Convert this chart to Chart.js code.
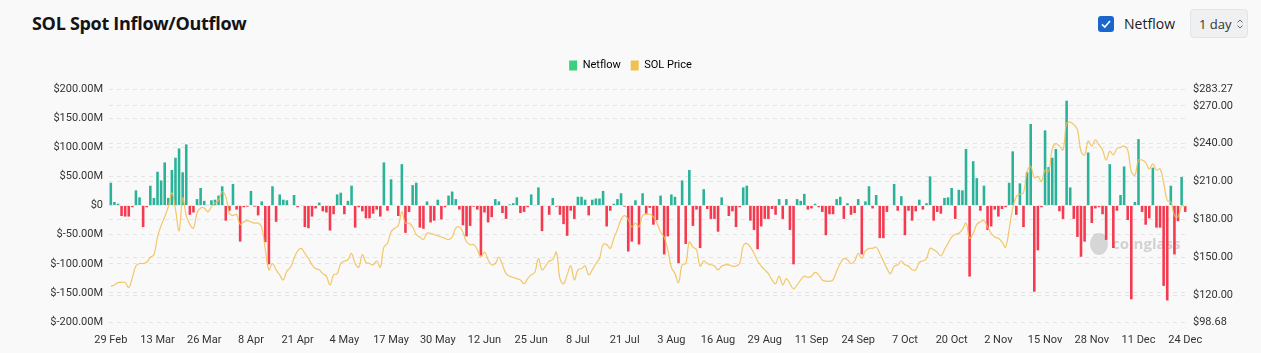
<!DOCTYPE html>
<html>
<head>
<meta charset="utf-8">
<script src="https://cdn.jsdelivr.net/npm/chart.js@4/dist/chart.umd.min.js"></script>
<style>
  html, body { margin: 0; padding: 0; background: #f9f9f9; font-family: 'Open Sans', 'Noto Sans', sans-serif; }
  .wrap { position: relative; width: 1261px; height: 353px; overflow: hidden; }
  .title { position: absolute; left: 32px; top: 11px; font-size: 18px; font-weight: 700; color: #141414; letter-spacing: -0.3px; }
  .ctrl { position: absolute; top: 9px; right: 13px; display: flex; align-items: center; }
  .chk { width: 16px; height: 16px; border-radius: 3px; background: #1a66cc; display: flex; align-items: center; justify-content: center; }
  .ctrl-label { margin: 0 15px 0 10px; font-size: 14px; color: #1c1c1c; }
  .sel { height: 29px; width: 58px; box-sizing: border-box; border: 1px solid #e1e4e8; border-radius: 4px; background: #eef0f2; font-size: 13px; color: #333; display: flex; align-items: center; padding-left: 8px; }
  .sel svg { margin-left: 4px; }
  .chart-box { position: absolute; left: 0; top: 50px; width: 1261px; height: 303px; }
</style>
</head>
<body>
<div class="wrap">
  <div class="title">SOL Spot Inflow/Outflow</div>
  <div class="ctrl">
    <div class="chk"><svg width="12" height="12" viewBox="0 0 12 12"><path d="M2 6.3 L4.8 9 L10 3" stroke="#fff" stroke-width="1.6" fill="none"/></svg></div>
    <span class="ctrl-label">Netflow</span>
    <div class="sel">1 day<svg width="8" height="12" viewBox="0 0 8 12"><path d="M1.5 4.5 L4 2 L6.5 4.5 M1.5 7.5 L4 10 L6.5 7.5" stroke="#666" stroke-width="1" fill="none"/></svg></div>
  </div>
  <div class="chart-box"><canvas id="chart"></canvas></div>
</div>
<script>
// SOL spot netflow (bars, $M) and SOL price (line), daily from 29 Feb 2024
const startDate = new Date(Date.UTC(2024, 1, 29));
const dayCount = 300;
const monthNames = ['Jan', 'Feb', 'Mar', 'Apr', 'May', 'Jun', 'Jul', 'Aug', 'Sep', 'Oct', 'Nov', 'Dec'];
const labelEvery = 13;

const netflowM = [
  39, 6, 3, -18, -19, -19, -3, 26, 14, -37,
  -3, 34, 13, 58, 43, 74, 13, 61, 82, 98,
  57, 105, -16, -12, 11, 30, 8, 1, 9, 10,
  17, 33, -26, -9, 37, -7, -62, -3, -2, 25,
  -2, -17, 7, -63, -101, 33, -28, 19, 10, 9,
  1, 18, -3, 1, -37, -39, -19, -5, 5, -10,
  -12, -43, -15, 19, 22, -15, 8, 34, -38, -3,
  -10, -22, -22, -14, -7, -19, 74, -9, 45, 1,
  -18, 71, -47, -11, 35, 39, -38, -40, 7, -29,
  -26, 10, -24, -3, 17, 24, 11, -7, -34, -53,
  -35, -2, -7, -86, -12, -29, -20, 11, 7, -13,
  -23, 2, 4, 14, -13, -11, -3, 19, 1, 31,
  -44, -1, -16, 13, -2, -16, -32, -52, -9, -23,
  15, 15, 10, -17, 10, 12, 12, 25, -36, -9,
  3, 11, 21, -2, -79, -62, 9, -67, 21, -14,
  -4, -33, -25, 17, -84, -53, 19, 15, -99, 43,
  -66, 61, -35, -7, -73, 28, -6, -23, -23, -45,
  14, 1, -18, -10, -37, -3, 31, 34, -26, -42,
  -75, -36, -23, -23, -6, -16, 11, -23, 11, -42,
  -101, 11, 8, 20, -7, -5, 3, -3, -11, -51,
  -15, -15, 11, 15, -23, 4, -16, -13, 11, -84,
  7, 33, -5, 18, -56, -56, -11, 1, 37, -9,
  16, -51, -9, -26, -10, 10, -7, 4, 50, -26,
  -11, -14, 13, 14, 30, -23, 27, 26, 97, -122,
  76, 47, -9, 34, -42, -36, -7, -19, -6, -3,
  39, 93, -16, 38, -37, 57, 140, -148, -77, -3,
  129, 66, 82, 97, -10, -23, 180, 31, -23, -54,
  -88, -62, 91, -30, -5, -3, -15, -59, 71, -73,
  -9, 18, 67, -25, -161, 6, 114, -11, -33, -22,
  65, -38, -38, -138, -163, 34, -84, -27, 49, -11
];

const solPrice = [
  127, 128, 130, 130, 130, 126, 134, 143, 145, 145,
  146, 150, 152, 166, 175, 182, 190, 201, 188, 171,
  197, 183, 176, 173, 185, 189, 189, 186, 190, 193,
  195, 202, 198, 185, 183, 184, 176, 178, 179, 178,
  177, 177, 174, 156, 140, 145, 140, 136, 132, 139,
  142, 149, 155, 157, 153, 149, 144, 141, 140, 137,
  135, 128, 136, 137, 145, 147, 148, 153, 145, 142,
  152, 146, 145, 144, 147, 142, 158, 161, 170, 173,
  175, 186, 177, 177, 174, 168, 166, 164, 169, 169,
  168, 167, 166, 165, 164, 166, 173, 174, 170, 162,
  160, 160, 156, 150, 154, 148, 144, 145, 150, 144,
  137, 135, 134, 133, 132, 129, 133, 136, 138, 149,
  140, 143, 147, 148, 154, 133, 129, 136, 143, 132,
  140, 141, 143, 136, 140, 145, 149, 160, 160, 157,
  165, 172, 180, 183, 180, 174, 177, 174, 183, 184,
  184, 182, 177, 170, 166, 156, 142, 137, 130, 144,
  145, 162, 158, 156, 143, 147, 145, 144, 143, 140,
  143, 144, 144, 143, 143, 145, 159, 161, 158, 153,
  147, 143, 140, 137, 132, 129, 135, 128, 133, 129,
  125, 128, 132, 135, 134, 135, 138, 136, 132, 131,
  131, 132, 139, 145, 149, 148, 145, 147, 153, 149,
  155, 157, 157, 158, 153, 147, 141, 137, 143, 144,
  147, 144, 143, 140, 140, 146, 147, 149, 157, 156,
  154, 151, 156, 161, 166, 168, 169, 172, 177, 165,
  169, 176, 178, 179, 174, 169, 166, 165, 162, 158,
  172, 189, 198, 200, 201, 218, 222, 213, 214, 210,
  219, 218, 236, 240, 238, 235, 256, 257, 255, 251,
  234, 231, 242, 238, 243, 239, 235, 227, 234, 231,
  236, 237, 238, 235, 218, 215, 227, 227, 225, 220,
  224, 219, 220, 209, 195, 194, 183, 182, 191, 190
];

const flowMin = -200, flowMax = 200, flowStep = 50;
const priceMin = 98.68, priceMax = 283.27, priceStep = 30;

const colors = {
  inflow: '#2bb39a',
  outflow: '#f5394f',
  legendGreen: '#3ccf7e',
  price: 'rgba(240, 190, 80, 0.85)',
  legendPrice: '#f0c050',
  grid: '#e4e4e4',
  tick: '#333',
};

const dates = [];
for (let i = 0; i < dayCount; i++) {
  const d = new Date(startDate.getTime() + i * 86400000);
  dates.push(d.getUTCDate() + ' ' + monthNames[d.getUTCMonth()]);
}

// legend gets extra room below it (space between legend and plot)
const legendGap = {
  id: 'legendGap',
  beforeInit(chart) {
    const fit = chart.legend.fit;
    chart.legend.fit = function () {
      fit.call(this);
      this.height += 8;
    };
  },
};

// faded brand mark behind the bars
const watermark = {
  id: 'watermark',
  beforeDatasetsDraw(chart) {
    const { ctx, chartArea } = chart;
    const x = chartArea.right - 97, y = chartArea.top + 156;
    ctx.save();
    ctx.fillStyle = 'rgba(150,150,150,0.35)';
    ctx.beginPath();
    ctx.ellipse(x + 9, y - 1, 9, 11, 0, 0, Math.PI * 2);
    ctx.fill();
    ctx.fillStyle = 'rgba(150,150,150,0.4)';
    ctx.font = 'bold 15px "Open Sans", sans-serif';
    ctx.textBaseline = 'middle';
    ctx.fillText('coinglass', x + 22, y);
    ctx.restore();
  },
};

const tickFont = { family: 'Roboto, "Noto Sans", sans-serif', size: 11 };

new Chart(document.getElementById('chart'), {
  data: {
    labels: dates,
    datasets: [
      {
        type: 'line',
        label: 'SOL Price',
        data: solPrice,
        yAxisID: 'y1',
        borderColor: colors.price,
        backgroundColor: colors.legendPrice,
        borderWidth: 1.2,
        pointRadius: 0,
        tension: 0.4,
        order: 1,
      },
      {
        type: 'bar',
        label: 'Netflow',
        data: netflowM,
        yAxisID: 'y',
        backgroundColor: ctx => (ctx.raw >= 0 ? colors.inflow : colors.outflow),
        barPercentage: 0.72,
        categoryPercentage: 1,
        order: 2,
      },
    ],
  },
  options: {
    responsive: true,
    maintainAspectRatio: false,
    animation: false,
    layout: { padding: 0 },
    plugins: {
      legend: {
        position: 'top',
        labels: {
          boxWidth: 8,
          boxHeight: 10,
          padding: 10,
          color: '#555',
          font: { family: 'Roboto, "Noto Sans", sans-serif', size: 11 },
          generateLabels: () => [
            { text: 'Netflow', fillStyle: colors.legendGreen, strokeStyle: colors.legendGreen, lineWidth: 0, datasetIndex: 1 },
            { text: 'SOL Price', fillStyle: colors.legendPrice, strokeStyle: colors.legendPrice, lineWidth: 0, datasetIndex: 0 },
          ],
        },
      },
      tooltip: { enabled: false },
    },
    scales: {
      x: {
        grid: { display: false },
        border: { display: false },
        ticks: {
          autoSkip: false,
          maxRotation: 0,
          padding: 4,
          color: colors.tick,
          font: tickFont,
          callback: (v, i) => (i % labelEvery === 0 ? dates[i] : ''),
        },
        afterFit: s => { s.height = 31; },
      },
      y: {
        position: 'left',
        min: flowMin,
        max: flowMax,
        grid: { color: colors.grid, drawTicks: false },
        border: { display: false, dash: [4, 4] },
        ticks: {
          stepSize: flowStep,
          padding: 6,
          color: colors.tick,
          font: tickFont,
          callback: v => (v === 0 ? '$0' : '$' + v.toFixed(2) + 'M'),
        },
        afterFit: s => { s.width = 109; },
      },
      y1: {
        position: 'right',
        min: priceMin,
        max: priceMax,
        grid: { color: colors.grid, drawTicks: false },
        border: { display: false, dash: [4, 4] },
        ticks: {
          stepSize: priceStep,
          padding: 6,
          color: colors.tick,
          font: tickFont,
          callback: v => '$' + v.toFixed(2),
        },
        afterFit: s => { s.width = 74; },
      },
    },
  },
  plugins: [legendGap, watermark],
});
</script>
</body>
</html>
